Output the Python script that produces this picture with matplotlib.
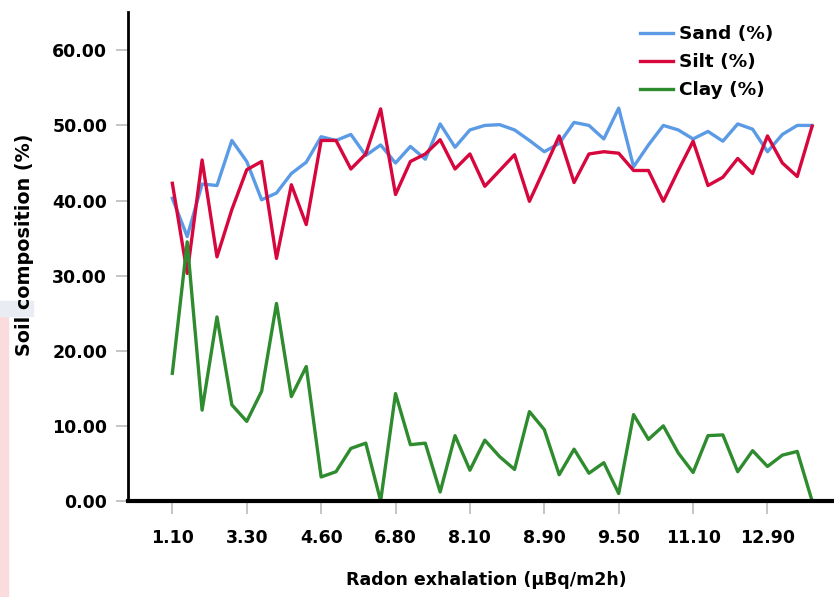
import matplotlib.pyplot as plt
import numpy as np
from matplotlib.patches import Rectangle

plt.rcParams['font.family'] = ['DejaVu Sans']
plt.rcParams['font.weight'] = 'bold'

# values, one per sample (44 samples)
sand = [40.3, 35.2, 42.2, 42.0, 48.0, 45.2, 40.1, 41.0, 43.6, 45.1,
        48.5, 48.0, 48.8, 46.0, 47.4, 45.0, 47.2, 45.5, 50.2, 47.1,
        49.4, 50.0, 50.1, 49.4, 48.0, 46.5, 47.6, 50.4, 50.0, 48.2,
        52.3, 44.5, 47.4, 50.0, 49.4, 48.2, 49.2, 47.9, 50.2, 49.5,
        46.5, 48.8, 50.0, 50.0]
silt = [42.3, 30.3, 45.4, 32.5, 38.8, 44.1, 45.2, 32.3, 42.1, 36.8,
        48.0, 48.0, 44.2, 46.2, 52.2, 40.8, 45.2, 46.2, 48.1, 44.2,
        46.2, 41.9, 44.0, 46.1, 39.9, 44.2, 48.6, 42.4, 46.2, 46.5,
        46.3, 44.0, 44.0, 39.9, 44.0, 47.9, 42.0, 43.1, 45.6, 43.6,
        48.6, 45.0, 43.2, 49.9]
clay = [17.0, 34.5, 12.1, 24.5, 12.8, 10.6, 14.6, 26.3, 13.9, 17.9,
        3.2, 3.9, 7.0, 7.7, 0.0, 14.3, 7.5, 7.7, 1.2, 8.7,
        4.1, 8.1, 5.9, 4.2, 11.9, 9.5, 3.5, 6.9, 3.7, 5.1,
        1.0, 11.5, 8.2, 10.0, 6.4, 3.8, 8.7, 8.8, 3.9, 6.7,
        4.6, 6.1, 6.6, 0.0]
# every 5th sample is labelled on the x axis
tick_labels = ['1.10', '3.30', '4.60', '6.80', '8.10', '8.90', '9.50', '11.10', '12.90']
y_ticks = [0, 10, 20, 30, 40, 50, 60]

fig = plt.figure(figsize=(8.34, 5.97), dpi=100)

# faint strip at the left edge of the screenshot
fig.patches.append(Rectangle((0, 0), 8 / 834, 281 / 597, transform=fig.transFigure,
                             color='#fadcdf', zorder=0))
fig.patches.append(Rectangle((0, 281 / 597), 33 / 834, 15 / 597, transform=fig.transFigure,
                             color='#e9edf3', zorder=0))

ax = fig.add_axes([128 / 834, 96 / 597, 706 / 834, 489 / 597])
x = np.arange(len(sand))
ax.plot(x, sand, color='#5b9be6', lw=2.4, label='Sand (%)')
ax.plot(x, silt, color='#d7063d', lw=2.4, label='Silt (%)')
ax.plot(x, clay, color='#2e8b2e', lw=2.4, label='Clay (%)')

ax.set_xlim(-2.98, 44.47)
ax.set_ylim(0, 65.1)
ax.set_xticks(x[::5])
ax.set_xticklabels(tick_labels)
ax.set_yticks(y_ticks)
ax.set_yticklabels([f'{v:.2f}' for v in y_ticks])

for s in ['top', 'right']:
    ax.spines[s].set_visible(False)
ax.spines['left'].set_linewidth(2)
ax.spines['bottom'].set_linewidth(3)
ax.tick_params(axis='both', color='#bbbbbb', length=9, width=1.2, labelsize=12.5)
ax.tick_params(axis='x', pad=11)
ax.tick_params(axis='y', pad=6)

ax.legend(loc='upper left', bbox_to_anchor=(640 / 834, 1 - 25 / 597),
          bbox_transform=fig.transFigure, frameon=False, fontsize=13.3,
          handlelength=1.8, handletextpad=0.3, labelspacing=0.55,
          borderpad=0, borderaxespad=0)

fig.text(486 / 834, 1 - 580 / 597, 'Radon exhalation (µBq/m2h)', fontsize=12.5,
         ha='center', va='center')
fig.text(25 / 834, 1 - 245 / 597, 'Soil composition (%)', fontsize=13.8,
         ha='center', va='center', rotation=90)

fig.savefig('out.png', dpi=100)
